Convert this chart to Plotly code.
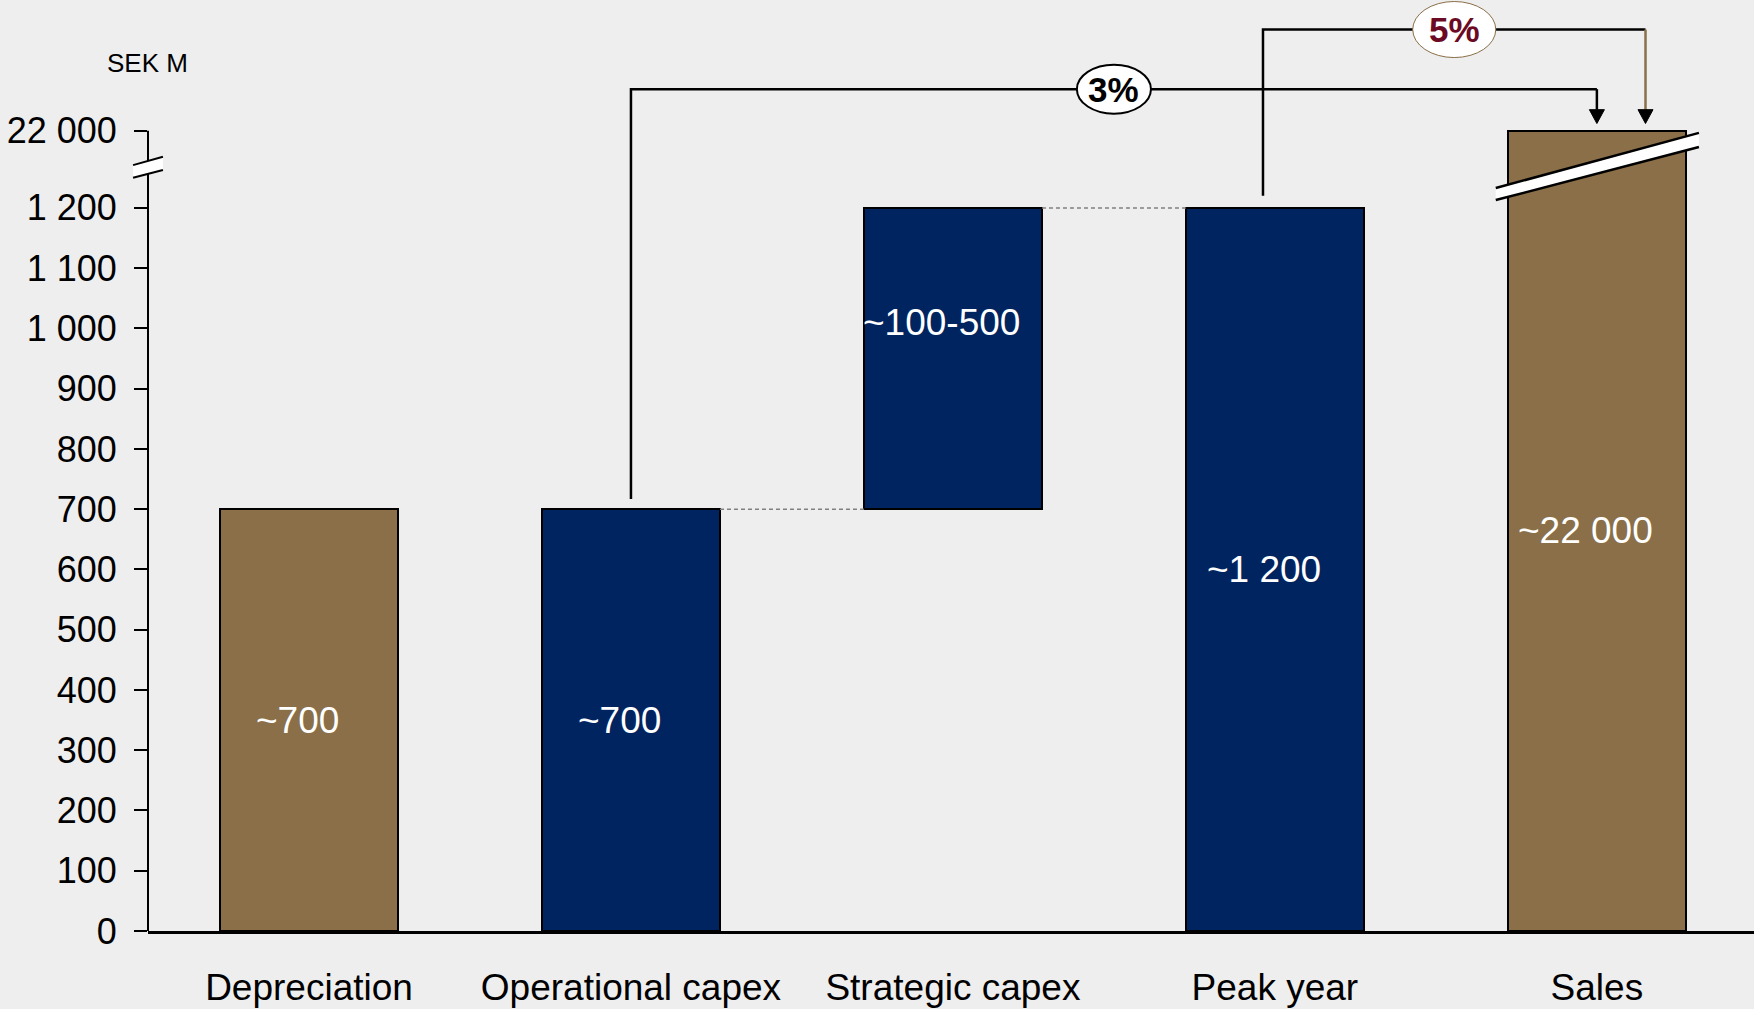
import plotly.graph_objects as go

# ---- data -------------------------------------------------------------
categories = ["Depreciation", "Operational capex", "Strategic capex", "Peak year", "Sales"]
bar_base = [0, 0, 700, 0, 0]
bar_top = [700, 700, 1200, 1200, 22000]
bar_labels = ["~700", "~700", "~100-500", "~1 200", "~22 000"]
bar_kind = ["total", "step", "step", "step", "total"]
y_ticks = [0, 100, 200, 300, 400, 500, 600, 700, 800, 900, 1000, 1100, 1200, 22000]
unit_label = "SEK M"

# share-of-sales brackets
share_from = ["Operational capex", "Peak year"]
share_to = ["Sales", "Sales"]
share_text = ["3%", "5%"]

# ---- styling ----------------------------------------------------------
FONT = "Liberation Sans, Arial, sans-serif"
BG = "#EEEEEE"
BROWN = "#8A6F48"
NAVY = "#00245F"
SHARE_RED = "#6B0A22"
KIND_COLOR = {"total": BROWN, "step": NAVY}

# broken value axis: everything above BREAK_AT is drawn BREAK_SPAN units higher
BREAK_AT = 1200
BREAK_SPAN = 128
Y_TOP = 1545
X_MAX = 4.488
BAR_W = 0.553


def axis_pos(v):
    return v if v <= BREAK_AT else BREAK_AT + BREAK_SPAN


def fmt(v):
    return f"{v:,}".replace(",", " ")


idx = {c: i for i, c in enumerate(categories)}
heights = [axis_pos(t) - b for t, b in zip(bar_top, bar_base)]

fig = go.Figure()
fig.add_trace(go.Bar(
    x=list(range(len(categories))),
    y=heights,
    base=bar_base,
    width=BAR_W,
    marker=dict(color=[KIND_COLOR[k] for k in bar_kind], line=dict(color="black", width=2)),
    hoverinfo="skip",
    showlegend=False,
))

shapes = []
annotations = []

# value labels inside the bars
label_frac = [0.5, 0.5, 0.62, 0.5, 0.5]
for i, (b, h, txt) in enumerate(zip(bar_base, heights, bar_labels)):
    annotations.append(dict(
        x=i, y=b + h * label_frac[i], xref="x", yref="y", text=txt, showarrow=False,
        xshift=-11, font=dict(family=FONT, size=37, color="white"),
    ))

# dashed connectors between the step bars
for i in range(1, len(categories) - 2):
    level = axis_pos(bar_top[i])
    shapes.append(dict(
        type="line", xref="x", yref="y",
        x0=i + BAR_W / 2, x1=i + 1 - BAR_W / 2, y0=level, y1=level,
        line=dict(color="#808080", width=1.5, dash="4px,3px"),
    ))

# brackets from a bar to the sales bar
bracket_cfg = [
    dict(dx0=0.0, dx1=0.0, y_line=1397, gap=17, drop_color="black", edge="black",
         edge_w=2, rx=0.115, ry=40.7, text_color="black"),
    dict(dx0=-0.037, dx1=0.151, y_line=1496, gap=20, drop_color=BROWN, edge=BROWN,
         edge_w=1, rx=0.129, ry=46.5, text_color=SHARE_RED),
]
ARROW_HW = 0.0233
ARROW_H = 23
for src, dst, txt, cfg in zip(share_from, share_to, share_text, bracket_cfg):
    xa = idx[src] + cfg["dx0"]
    xb = idx[dst] + cfg["dx1"]
    y_start = axis_pos(bar_top[idx[src]]) + cfg["gap"]
    tip = axis_pos(bar_top[idx[dst]]) + 12
    yl = cfg["y_line"]
    shapes.append(dict(
        type="path", xref="x", yref="y",
        path=f"M {xa},{y_start} L {xa},{yl} L {xb},{yl}",
        line=dict(color="black", width=2.5),
    ))
    shapes.append(dict(
        type="line", xref="x", yref="y", x0=xb, x1=xb, y0=yl, y1=tip + ARROW_H,
        line=dict(color=cfg["drop_color"], width=2.5),
    ))
    shapes.append(dict(
        type="path", xref="x", yref="y",
        path=f"M {xb - ARROW_HW},{tip + ARROW_H} L {xb + ARROW_HW},{tip + ARROW_H} L {xb},{tip} Z",
        fillcolor="black", line=dict(color="black", width=1),
    ))
    xc = (xa + xb) / 2
    shapes.append(dict(
        type="circle", xref="x", yref="y",
        x0=xc - cfg["rx"], x1=xc + cfg["rx"], y0=yl - cfg["ry"], y1=yl + cfg["ry"],
        fillcolor="white", line=dict(color=cfg["edge"], width=cfg["edge_w"]),
    ))
    annotations.append(dict(
        x=xc, y=yl, xref="x", yref="y", text=f"<b>{txt}</b>", showarrow=False,
        font=dict(family=FONT, size=35, color=cfg["text_color"]),
    ))

# break band across the sales bar
s = idx["Sales"]
bx0, bx1 = s - 0.314, s + 0.317
band_top = (1233, 1324.5)
band_bot = (1213, 1301)
shapes.append(dict(
    type="path", xref="x", yref="y",
    path=(f"M {bx0},{band_top[0]} L {bx1},{band_top[1]} "
          f"L {bx1},{band_bot[1]} L {bx0},{band_bot[0]} Z"),
    fillcolor="white", line=dict(width=0),
))
for yy in (band_top, band_bot):
    shapes.append(dict(
        type="line", xref="x", yref="y", x0=bx0, x1=bx1, y0=yy[0], y1=yy[1],
        line=dict(color="black", width=2.5),
    ))

# value axis line (ends at the top tick) with its break mark
shapes.append(dict(
    type="line", xref="paper", yref="paper", x0=0, x1=0,
    y0=0, y1=axis_pos(y_ticks[-1]) / Y_TOP, line=dict(color="black", width=2),
))
ax0, ax1 = -0.0093, 0.0093
a_top = (1271, 1285)
a_bot = (1250, 1263)
shapes.append(dict(
    type="path", xref="paper", yref="paper",
    path=(f"M {ax0},{a_top[0] / Y_TOP} L {ax1},{a_top[1] / Y_TOP} "
          f"L {ax1},{a_bot[1] / Y_TOP} L {ax0},{a_bot[0] / Y_TOP} Z"),
    fillcolor="white", line=dict(width=0),
))
for yy in (a_top, a_bot):
    shapes.append(dict(
        type="line", xref="paper", yref="paper", x0=ax0, x1=ax1,
        y0=yy[0] / Y_TOP, y1=yy[1] / Y_TOP, line=dict(color="black", width=2),
    ))

annotations.append(dict(
    x=-0.0006, y=1440 / Y_TOP, xref="paper", yref="paper", text=unit_label, showarrow=False,
    xanchor="center", yanchor="middle", font=dict(family=FONT, size=26, color="black"),
))

fig.update_layout(
    width=1754, height=1009,
    margin=dict(l=148, r=0, t=0, b=78),
    paper_bgcolor=BG, plot_bgcolor=BG,
    shapes=shapes, annotations=annotations,
    bargap=0,
    xaxis=dict(
        range=[-0.5, X_MAX], tickmode="array",
        tickvals=list(range(len(categories))), ticktext=categories,
        showline=True, linecolor="black", linewidth=3, ticks="",
        showgrid=False, zeroline=False, ticklabelstandoff=22,
        tickfont=dict(family=FONT, size=37, color="black"),
    ),
    yaxis=dict(
        range=[0, Y_TOP], tickmode="array",
        tickvals=[axis_pos(v) for v in y_ticks], ticktext=[fmt(v) for v in y_ticks],
        showline=False, ticks="outside", ticklen=13, tickwidth=2, tickcolor="black",
        showgrid=False, zeroline=False, ticklabelstandoff=10,
        tickfont=dict(family=FONT, size=36, color="black"),
    ),
)

fig.write_html("out.html")
